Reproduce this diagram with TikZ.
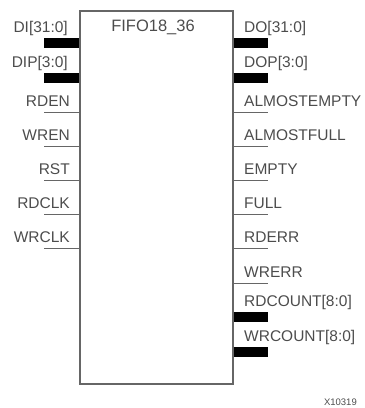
\documentclass[tikz,border=0pt]{standalone}
\usepackage{fontspec}
\setmainfont{Liberation Sans}
\usetikzlibrary{positioning}
\definecolor{pingray}{gray}{0.4}
\definecolor{labgray}{gray}{0.3}

\begin{document}
\begin{tikzpicture}[x=1pt,y=-1pt,
    pin/.style={pingray, line width=1pt},
    bus/.style={black, line width=9.5pt},
    lab/.style={text=labgray, font=\fontsize{15.5}{16}\selectfont, inner sep=0pt}]
  \useasboundingbox (0,0) rectangle (365,408);
  % block
  \node[draw=pingray, line width=1.6pt, minimum width=153pt, minimum height=373pt,
        inner sep=0pt, anchor=north west] (fifo) at (79,10) {};
  \node[lab, font=\fontsize{16.5}{17}\selectfont, anchor=base] (title) at (153,31) {FIFO18\_36};
  % inputs
  \coordinate (di) at (44,43);
  \coordinate (dip) at (44,78);
  \coordinate (rden) at (44,112);
  \coordinate (wren) at (44,146);
  \coordinate (rst) at (44,180);
  \coordinate (rdclk) at (44,214);
  \coordinate (wrclk) at (44,248);
  \draw[bus] (di) -- (fifo.west |- di);
  \draw[bus] (dip) -- (fifo.west |- dip);
  \draw[pin] (rden) -- (fifo.west |- rden);
  \draw[pin] (wren) -- (fifo.west |- wren);
  \draw[pin] (rst) -- (fifo.west |- rst);
  \draw[pin] (rdclk) -- (fifo.west |- rdclk);
  \draw[pin] (wrclk) -- (fifo.west |- wrclk);
  \node[lab, anchor=base east] (dil) at (68,32) {DI[31:0]};
  \node[lab, anchor=base east] (dipl) at (68,67) {DIP[3:0]};
  \node[lab, anchor=base east] (rdenl) at (70,106) {RDEN};
  \node[lab, anchor=base east] (wrenl) at (70,140) {WREN};
  \node[lab, anchor=base east] (rstl) at (70,174) {RST};
  \node[lab, anchor=base east] (rdclkl) at (70,208) {RDCLK};
  \node[lab, anchor=base east] (wrclkl) at (70,242) {WRCLK};
  % outputs
  \coordinate (do) at (268,43);
  \coordinate (dop) at (268,78);
  \coordinate (aempty) at (268,112);
  \coordinate (afull) at (268,146);
  \coordinate (empty) at (268,180);
  \coordinate (full) at (268,214);
  \coordinate (rderr) at (268,248);
  \coordinate (wrerr) at (268,283);
  \coordinate (rdcount) at (268,317);
  \coordinate (wrcount) at (268,352);
  \draw[bus] (fifo.east |- do) -- (do);
  \draw[bus] (fifo.east |- dop) -- (dop);
  \draw[pin] (fifo.east |- aempty) -- (aempty);
  \draw[pin] (fifo.east |- afull) -- (afull);
  \draw[pin] (fifo.east |- empty) -- (empty);
  \draw[pin] (fifo.east |- full) -- (full);
  \draw[pin] (fifo.east |- rderr) -- (rderr);
  \draw[pin] (fifo.east |- wrerr) -- (wrerr);
  \draw[bus] (fifo.east |- rdcount) -- (rdcount);
  \draw[bus] (fifo.east |- wrcount) -- (wrcount);
  \node[lab, anchor=base west] (dol) at (244,32) {DO[31:0]};
  \node[lab, anchor=base west] (dopl) at (244,67) {DOP[3:0]};
  \node[lab, anchor=base west] (aemptyl) at (244,106) {ALMOSTEMPTY};
  \node[lab, anchor=base west] (afulll) at (244,140) {ALMOSTFULL};
  \node[lab, anchor=base west] (emptyl) at (244,174) {EMPTY};
  \node[lab, anchor=base west] (fulll) at (244,208) {FULL};
  \node[lab, anchor=base west] (rderrl) at (244,242) {RDERR};
  \node[lab, anchor=base west] (wrerrl) at (244,277) {WRERR};
  \node[lab, anchor=base west] (rdcountl) at (244,306) {RDCOUNT[8:0]};
  \node[lab, anchor=base west] (wrcountl) at (244,341) {WRCOUNT[8:0]};
  % figure number
  \node[lab, font=\fontsize{9.5}{10}\selectfont, anchor=base east] (fignum) at (357,405) {X10319};
\end{tikzpicture}
\end{document}
